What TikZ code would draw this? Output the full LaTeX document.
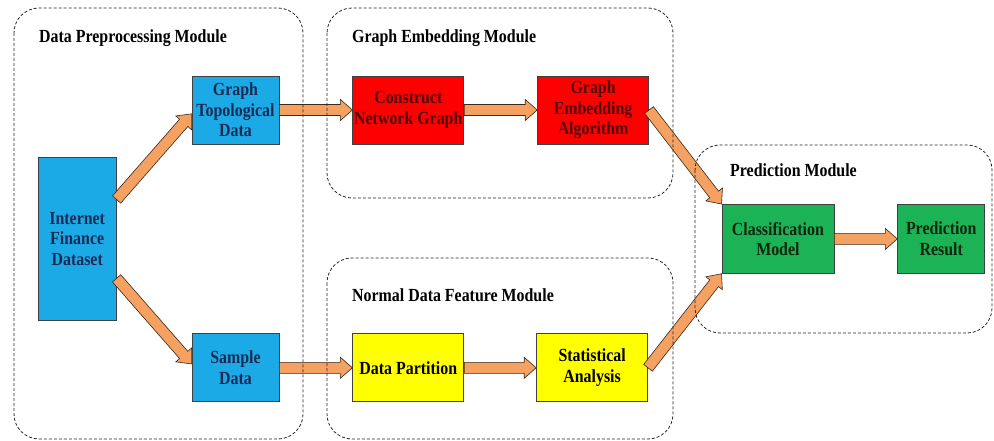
\documentclass[tikz,border=0pt]{standalone}
\usepackage{fontspec}
\setmainfont[FakeStretch=0.86]{Liberation Serif}
\usetikzlibrary{positioning,calc}
\definecolor{boxblue}{RGB}{28,170,230}
\definecolor{boxred}{RGB}{255,0,0}
\definecolor{boxyellow}{RGB}{255,255,0}
\definecolor{boxgreen}{RGB}{28,178,86}
\definecolor{textblue}{RGB}{27,42,85}
\definecolor{textred}{RGB}{77,11,11}
\definecolor{textgreen}{RGB}{13,38,13}
\definecolor{arroworange}{RGB}{244,161,97}
\definecolor{arrowline}{RGB}{60,40,25}
\tikzstyle{basebox} = [rectangle, draw=black!75, line width=0.8pt, align=center,
    inner sep=1pt, font=\fontsize{18.5}{20.5}\selectfont\bfseries]
\tikzstyle{datanode} = [basebox, fill=boxblue, text=textblue,
    minimum width=87pt, minimum height=68pt]
\tikzstyle{graphnode} = [basebox, fill=boxred, text=textred,
    minimum width=111pt, minimum height=68pt]
\tikzstyle{featurenode} = [basebox, fill=boxyellow, text=black,
    minimum width=111pt, minimum height=68pt]
\tikzstyle{predictnode} = [basebox, fill=boxgreen, text=textgreen, minimum height=69pt]
\tikzstyle{module} = [draw=black!85, line width=0.8pt, dash pattern=on 3pt off 2pt,
    rounded corners=25pt]
\tikzstyle{modulelabel} = [anchor=base west, inner sep=0pt,
    font=\fontsize{18.5}{20}\selectfont\bfseries]
\tikzstyle{fatarrow} = [draw=arrowline, fill=arroworange, line width=0.6pt,
    to path={
      ($(\tikztostart)!5.5pt!90:(\tikztotarget)$)
      -- ($(\tikztotarget)!12pt!(\tikztostart)!5.5pt!90:(\tikztotarget)$)
      -- ($(\tikztotarget)!12pt!(\tikztostart)!10.5pt!90:(\tikztotarget)$)
      -- (\tikztotarget)
      -- ($(\tikztotarget)!12pt!(\tikztostart)!10.5pt!-90:(\tikztotarget)$)
      -- ($(\tikztotarget)!12pt!(\tikztostart)!5.5pt!-90:(\tikztotarget)$)
      -- ($(\tikztostart)!5.5pt!-90:(\tikztotarget)$) -- cycle}]

\begin{document}
\begin{tikzpicture}[x=1pt, y=-1pt]
    \useasboundingbox (0,0) rectangle (994,441);

    \node[datanode] (graphTopo) at (235.5,110) {Graph\\Topological\\Data};
    \node[datanode, below=189pt of graphTopo] (sampleData) {Sample\\Data};
    \coordinate (splitPoint) at ($(graphTopo.west)!0.5!(sampleData.west)$);
    \node[datanode, minimum width=78pt, minimum height=163pt, left=75pt of splitPoint] (internetData) {Internet\\Finance\\Dataset};

    \node[graphnode, right=73pt of graphTopo] (buildGraph) {Construct\\Network Graph};
    \node[graphnode, right=73pt of buildGraph] (embedAlgo) {Graph\\Embedding\\Algorithm};
    \node[featurenode, right=73pt of sampleData] (dataPartition) {Data Partition};
    \node[featurenode, right=72pt of dataPartition] (statAnalysis) {Statistical\\Analysis};

    \coordinate (mergePoint) at ($(embedAlgo.east)!0.5!(statAnalysis.east)$);
    \node[predictnode, minimum width=112pt, right=73pt of mergePoint] (classModel) {Classification\\Model};
    \node[predictnode, minimum width=87pt, right=63pt of classModel] (predResult) {Prediction\\Result};

    \draw[fatarrow] (internetData.45) to (graphTopo.185);
    \draw[fatarrow] (internetData.-45) to (sampleData.175);
    \draw[fatarrow] (graphTopo.east) to (buildGraph.west);
    \draw[fatarrow] (sampleData.east) to (dataPartition.west);
    \draw[fatarrow] (buildGraph.east) to (embedAlgo.west);
    \draw[fatarrow] (dataPartition.east) to (statAnalysis.west);
    \draw[fatarrow] (embedAlgo.east) to (classModel.north west);
    \draw[fatarrow] (statAnalysis.east) to (classModel.south west);
    \draw[fatarrow] (classModel.east) to (predResult.west);

    \draw[module] (14,8) rectangle (303,439);
    \draw[module] (327,8) rectangle (673,198);
    \draw[module] (327,258) rectangle (673,439);
    \draw[module] (695,145) rectangle (992,333);

    \node[modulelabel] (prepLabel) at (39,43) {Data Preprocessing Module};
    \node[modulelabel] (embedLabel) at (352,43) {Graph Embedding Module};
    \node[modulelabel] (featureLabel) at (352,301) {Normal Data Feature Module};
    \node[modulelabel] (predictLabel) at (730,177) {Prediction Module};
\end{tikzpicture}
\end{document}
